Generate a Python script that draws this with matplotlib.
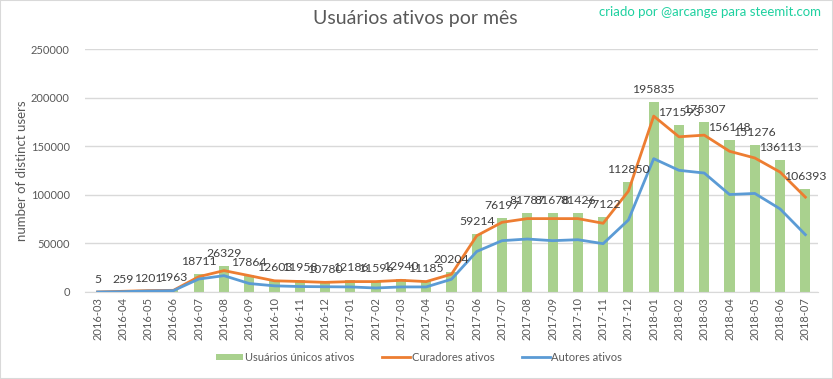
import numpy as np
import matplotlib
matplotlib.use("Agg")
import matplotlib.pyplot as plt

plt.rcParams["font.family"] = ["Lato", "DejaVu Sans"]

months = ["2016-03", "2016-04", "2016-05", "2016-06", "2016-07", "2016-08", "2016-09",
          "2016-10", "2016-11", "2016-12", "2017-01", "2017-02", "2017-03", "2017-04",
          "2017-05", "2017-06", "2017-07", "2017-08", "2017-09", "2017-10", "2017-11",
          "2017-12", "2018-01", "2018-02", "2018-03", "2018-04", "2018-05", "2018-06",
          "2018-07"]
unicos = [5, 259, 1201, 1963, 18711, 26329, 17864, 12603, 11958, 10780, 12186, 11596,
          12940, 11185, 20204, 59214, 76197, 81787, 81678, 81426, 77122, 112850,
          195835, 171593, 175307, 156148, 151276, 136113, 106393]
curadores = [0, 700, 1400, 1700, 15700, 22000, 16800, 11500, 10800, 9900, 10700, 10700,
             12000, 10700, 18300, 57900, 71700, 75500, 75500, 75500, 70700, 103800,
             181000, 159700, 161400, 144800, 137900, 123400, 97600]
autores = [0, 300, 1000, 1400, 13300, 16800, 8700, 6300, 5600, 5400, 5200, 4100,
           5200, 5200, 13100, 41700, 52800, 54500, 52800, 53800, 49700, 74100,
           137200, 125200, 122400, 100300, 101400, 85500, 59000]

grey = "#595959"
fig = plt.figure(figsize=(8.33, 3.79), dpi=100)
ax = fig.add_axes([0.102, 0.2296, 0.880, 0.641])
x = np.arange(len(months))

b = ax.bar(x, unicos, width=0.4, color="#A9D18E", label="Usuários únicos ativos", zorder=2)
l1, = ax.plot(x, curadores, color="#ED7D31", lw=2, label="Curadores ativos", zorder=3)
l2, = ax.plot(x, autores, color="#5B9BD5", lw=2, label="Autores ativos", zorder=3)

for xi, v in zip(x, unicos):
    ax.annotate(str(v), (xi, v), xytext=(0, 5), textcoords="offset points",
                ha="center", va="bottom", fontsize=8.8, color="#404040", zorder=4)

ax.set_xlim(-0.5, len(months) - 0.5)
ax.set_ylim(0, 250000)
ax.set_yticks(range(0, 250001, 50000))
ax.grid(axis="y", color="#d9d9d9", lw=1, zorder=0)
for s in ["top", "right", "left"]:
    ax.spines[s].set_visible(False)
ax.spines["bottom"].set_color("#d9d9d9")
ax.tick_params(axis="y", length=0, labelsize=8, labelcolor=grey, pad=11)
ax.tick_params(axis="x", length=0, labelsize=8, labelcolor=grey)
ax.set_xticks(x)
ax.set_xticklabels(months, rotation=90)
ax.set_ylabel("number of distinct users", fontsize=9.5, color=grey)
ax.yaxis.set_label_coords(-0.078, 0.5)

fig.text(0.498, 0.95, "Usuários ativos por mês", ha="center", va="center",
         fontsize=14, color=grey)
fig.text(0.985, 0.968, "criado por @arcange para steemit.com", ha="right", va="center",
         fontsize=9.5, color="#1FD1A0")

fig.legend([b, l1, l2], ["Usuários únicos ativos", "Curadores ativos", "Autores ativos"],
           loc="center", bbox_to_anchor=(0.503, 0.058), ncol=3, frameon=False,
           fontsize=8, labelcolor=grey, handlelength=2.5, handleheight=0.45,
           columnspacing=2.5, handletextpad=0.15)

fig.patches.append(plt.Rectangle((0, 0), 1, 1, transform=fig.transFigure,
                                 fill=False, edgecolor="#d9d9d9", lw=1.5))
fig.savefig("out.png", dpi=100)
